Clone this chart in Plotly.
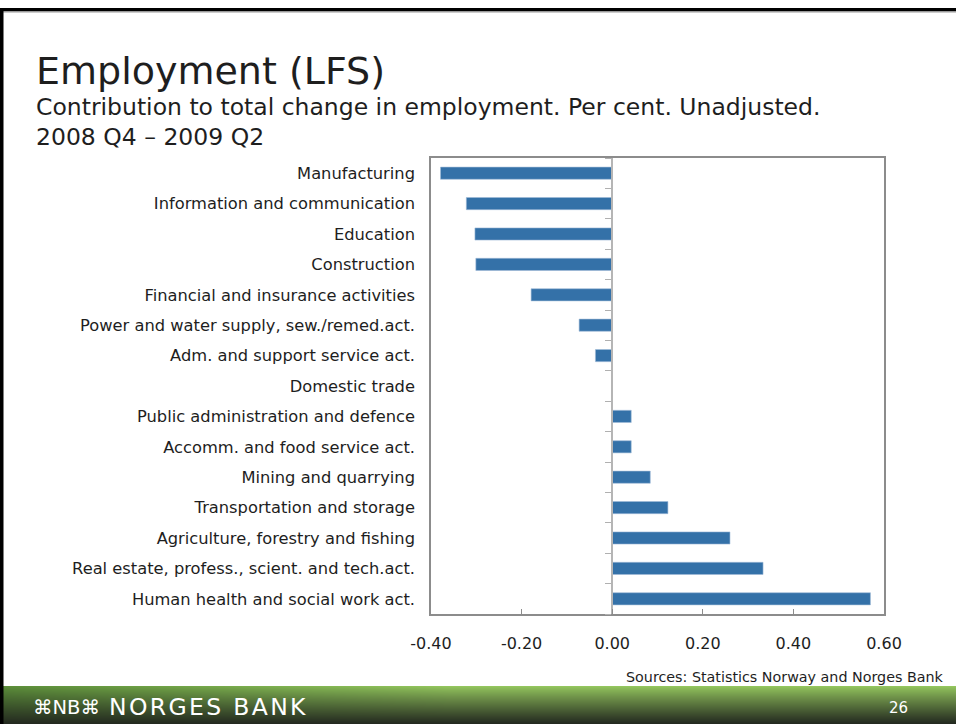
import base64, struct, zlib
import numpy as np
import plotly.graph_objects as go

# ---------------- data ----------------
categories = [
    "Manufacturing",
    "Information and communication",
    "Education",
    "Construction",
    "Financial and insurance activities",
    "Power and water supply, sew./remed.act.",
    "Adm. and support service act.",
    "Domestic trade",
    "Public administration and defence",
    "Accomm. and food service act.",
    "Mining and quarrying",
    "Transportation and storage",
    "Agriculture, forestry and fishing",
    "Real estate, profess., scient. and tech.act.",
    "Human health and social work act.",
]
values = [-0.379, -0.322, -0.303, -0.301, -0.179, -0.073, -0.037, 0.0,
          0.042, 0.042, 0.084, 0.123, 0.260, 0.333, 0.570]
x_tickvals = [-0.4, -0.2, 0.0, 0.2, 0.4, 0.6]
x_ticktext = ["-0.40", "-0.20", "0.00", "0.20", "0.40", "0.60"]

title = "Employment (LFS)"
subtitle1 = "Contribution to total change in employment. Per cent. Unadjusted."
subtitle2 = "2008 Q4 \u2013 2009 Q2"
source = "Sources: Statistics Norway and Norges Bank"
page_no = "26"

# ---------------- geometry ----------------
W, H = 956, 724
px_l, px_r, px_t, px_b = 431, 884, 158, 614
xdom = [px_l / W, px_r / W]
ydom = [(H - px_b) / H, (H - px_t) / H]
xr = [-0.4, 0.6]
zero_pos = xdom[0] + (0 - xr[0]) / (xr[1] - xr[0]) * (xdom[1] - xdom[0])
n = len(categories)
yr = [n - 0.5, -0.5]
boundaries = [i + 0.5 for i in range(-1, n)]

FONT = "DejaVu Sans"
TXT = "#1e1e1e"

# ---------------- banner gradient image ----------------
bw, bh = W, 38
xs = np.clip(np.arange(bw) / 450.0, 0, 1)[None, :, None]
ys = (np.arange(bh) / (bh - 1))[:, None, None]
top_l = np.array([92, 142, 58], float)
top_r = np.array([148, 198, 94], float)
bot = np.array([36, 42, 32], float)
top = top_l + (top_r - top_l) * xs
img = top + (bot - top) * ys ** 0.9
img = np.clip(img, 0, 255).astype(np.uint8)
raw = b"".join(b"\x00" + img[r].tobytes() for r in range(bh))

def chunk(tag, data):
    c = struct.pack(">I", len(data)) + tag + data
    return c + struct.pack(">I", zlib.crc32(tag + data) & 0xFFFFFFFF)

png = (b"\x89PNG\r\n\x1a\n"
       + chunk(b"IHDR", struct.pack(">IIBBBBB", bw, bh, 8, 2, 0, 0, 0))
       + chunk(b"IDAT", zlib.compress(raw, 9))
       + chunk(b"IEND", b""))
banner_uri = "data:image/png;base64," + base64.b64encode(png).decode()

# ---------------- figure ----------------
fig = go.Figure()
fig.add_trace(go.Bar(
    x=values, y=categories, orientation="h",
    marker=dict(color="#3471a8", line=dict(color="#9fbbd6", width=0.6)),
    hoverinfo="x+y", showlegend=False,
))
# invisible helper trace so the zero-line category tick axis is drawn
fig.add_trace(go.Scatter(x=[0], y=[0], yaxis="y2", mode="none",
                         showlegend=False, hoverinfo="skip"))

fig.update_layout(
    width=W, height=H, autosize=False,
    margin=dict(l=0, r=0, t=0, b=0, pad=0, autoexpand=False),
    paper_bgcolor="white", plot_bgcolor="white",
    bargap=0.6,
    font=dict(family=FONT, color=TXT),
    xaxis=dict(
        domain=xdom, range=xr, tickvals=x_tickvals, ticktext=x_ticktext,
        showgrid=False, zeroline=False, automargin=False,
        showline=True, mirror=True, linecolor="#8c8c8c", linewidth=1.5,
        ticks="inside", ticklen=5, tickcolor="#8c8c8c", tickwidth=1,
        tickfont=dict(size=16, color=TXT, family=FONT),
        ticklabelstandoff=14, fixedrange=True,
    ),
    yaxis=dict(
        domain=ydom, range=yr, type="category",
        categoryorder="array", categoryarray=categories,
        showgrid=False, zeroline=False, automargin=False,
        showline=True, mirror=True, linecolor="#8c8c8c", linewidth=1.5,
        ticks="", tickfont=dict(size=16.3, color=TXT, family=FONT),
        ticklabelstandoff=11, fixedrange=True,
    ),
    yaxis2=dict(
        overlaying="y", anchor="free", position=zero_pos, side="left",
        range=yr, tickvals=boundaries, showticklabels=False,
        showgrid=False, zeroline=False, automargin=False,
        showline=True, linecolor="#b5b5b5", linewidth=1.5,
        ticks="outside", ticklen=6, tickcolor="#b0b0b0", tickwidth=1,
        fixedrange=True,
    ),
    images=[dict(source=banner_uri, xref="paper", yref="paper",
                 x=0, y=bh / H, sizex=1, sizey=bh / H,
                 xanchor="left", yanchor="top", sizing="stretch", layer="below")],
    shapes=[
        dict(type="rect", xref="paper", yref="paper", x0=0, x1=1,
             y0=1 - 11 / H, y1=1 - 8 / H, fillcolor="black", line_width=0),
        dict(type="rect", xref="paper", yref="paper", x0=0, x1=1,
             y0=1 - 12.5 / H, y1=1 - 11 / H, fillcolor="#9a9a9a", line_width=0),
        dict(type="rect", xref="paper", yref="paper", x0=0, x1=3.5 / W,
             y0=0, y1=1 - 8 / H, fillcolor="black", line_width=0),
    ],
    annotations=[
        dict(text=title, x=34 / W, y=1 - 71 / H, xref="paper", yref="paper",
             xanchor="left", yanchor="middle", showarrow=False,
             font=dict(size=38, color=TXT, family=FONT)),
        dict(text=subtitle1, x=34 / W, y=1 - 107 / H, xref="paper", yref="paper",
             xanchor="left", yanchor="middle", showarrow=False,
             font=dict(size=23.5, color=TXT, family=FONT)),
        dict(text=subtitle2, x=34 / W, y=1 - 137 / H, xref="paper", yref="paper",
             xanchor="left", yanchor="middle", showarrow=False,
             font=dict(size=23.5, color=TXT, family=FONT)),
        dict(text=source, x=946 / W, y=1 - 677 / H, xref="paper", yref="paper",
             xanchor="right", yanchor="middle", showarrow=False,
             font=dict(size=14.3, color=TXT, family=FONT)),
        dict(text="\u2318NB\u2318", x=31 / W, y=1 - 707 / H, xref="paper", yref="paper",
             xanchor="left", yanchor="middle", showarrow=False,
             font=dict(size=19.5, color="white", family=FONT)),
        dict(text="N\u200aO\u200aR\u200aG\u200aE\u200aS\u2009 B\u200aA\u200aN\u200aK",
             x=107 / W, y=1 - 707 / H, xref="paper", yref="paper",
             xanchor="left", yanchor="middle", showarrow=False,
             font=dict(size=23.5, color="white", family=FONT)),
        dict(text=page_no, x=898 / W, y=1 - 708 / H, xref="paper", yref="paper",
             xanchor="center", yanchor="middle", showarrow=False,
             font=dict(size=15, color="white", family=FONT)),
    ],
)

fig.write_html(
    "out.html",
    config={"displayModeBar": False, "responsive": False},
    post_script="document.body.style.margin='0px';document.body.style.overflow='hidden';",
)
